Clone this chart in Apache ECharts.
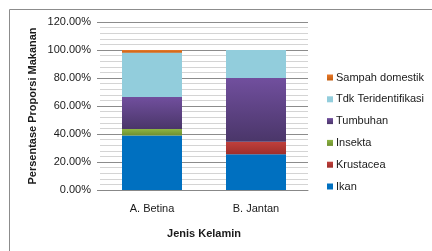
<!DOCTYPE html>
<html>
<head>
<meta charset="utf-8">
<script src="https://cdn.jsdelivr.net/npm/echarts@6/dist/echarts.min.js"></script>
<style>
  html, body { margin: 0; padding: 0; background: #fff; }
  #chart { width: 432px; height: 251px; }
</style>
</head>
<body>
<div id="chart"></div>
<script>
// data (percent of diet)
var categories = ['A. Betina', 'B. Jantan']
var ikan = [39, 25.5]
var krustacea = [0, 9]
var insekta = [4.5, 0]
var tumbuhan = [23, 45.5]
var tdkTeridentifikasi = [31.5, 20]
var sampahDomestik = [2, 0]
var yTicks = [0, 20, 40, 60, 80, 100, 120]

var FONT = 'Liberation Sans'

function grad(top, bottom) {
  return new echarts.graphic.LinearGradient(0, 0, 0, 1, [
    { offset: 0, color: top },
    { offset: 1, color: bottom }
  ])
}

var chartDom = echarts.init(document.getElementById('chart'))

var seriesList = [
  { name: 'Ikan', data: ikan, color: '#0070C0', fill: '#0070C0' },
  { name: 'Krustacea', data: krustacea, color: '#C0504D', fill: grad('#C0403C', '#9E2E2B') },
  { name: 'Insekta', data: insekta, color: '#9BBB59', fill: grad('#8DB543', '#6E8F30') },
  { name: 'Tumbuhan', data: tumbuhan, color: '#7050A0', fill: grad('#714F9E', '#4A3669') },
  { name: 'Tdk Teridentifikasi', data: tdkTeridentifikasi, color: '#92CDDC', fill: '#92CDDC' },
  { name: 'Sampah domestik', data: sampahDomestik, color: '#E46C0A', fill: grad('#E8792A', '#C45E10') }
]

chartDom.setOption({
  animation: false,
  textStyle: { fontFamily: FONT },
  graphic: [{
    type: 'rect',
    shape: { x: 9.5, y: 9.5, width: 440, height: 260 },
    style: { fill: 'none', stroke: '#8c8c8c', lineWidth: 1 },
    z: -10
  }],
  legend: {
    orient: 'vertical',
    left: 322,
    top: 67,
    itemWidth: 6,
    itemHeight: 6,
    itemGap: 10.8,
    icon: 'rect',
    data: ['Sampah domestik', 'Tdk Teridentifikasi', 'Tumbuhan', 'Insekta', 'Krustacea', 'Ikan'],
    textStyle: { fontFamily: FONT, fontSize: 11, color: '#1a1a1a', padding: [0, 0, 0, -2] }
  },
  grid: {
    left: 100,
    right: 124,
    top: 22,
    bottom: 61,
    containLabel: false
  },
  xAxis: {
    type: 'category',
    data: categories,
    name: 'Jenis Kelamin',
    nameLocation: 'middle',
    nameGap: 38,
    nameTextStyle: { fontFamily: FONT, fontSize: 11, fontWeight: 'bold', color: '#1a1a1a' },
    axisLine: { lineStyle: { color: '#888' } },
    axisTick: { show: false },
    axisLabel: { fontFamily: FONT, fontSize: 11, color: '#1a1a1a', margin: 13 }
  },
  yAxis: {
    type: 'value',
    min: yTicks[0],
    max: yTicks[yTicks.length - 1],
    interval: 20,
    name: 'Persentase Proporsi Makanan',
    nameLocation: 'middle',
    nameGap: 62,
    nameTextStyle: { fontFamily: FONT, fontSize: 11, fontWeight: 'bold', color: '#1a1a1a' },
    axisLine: { show: false },
    axisTick: { show: true, length: 3, lineStyle: { color: '#888' } },
    axisLabel: {
      fontFamily: FONT, fontSize: 11, color: '#1a1a1a', margin: 9,
      formatter: function (v) { return v.toFixed(2) + '%' }
    },
    splitLine: { lineStyle: { color: '#8c8c8c' } },
    minorTick: { show: false, splitNumber: 5 },
    minorSplitLine: { show: true, lineStyle: { color: '#d4d4d4' } }
  },
  series: seriesList.map(function (s) {
    return {
      name: s.name,
      type: 'bar',
      stack: 'total',
      barWidth: 60,
      data: s.data,
      color: s.color,
      itemStyle: { color: s.fill },
      emphasis: { disabled: true }
    }
  })
})

window.addEventListener('resize', () => {
  chartDom.resize()
})
</script>
</body>
</html>
